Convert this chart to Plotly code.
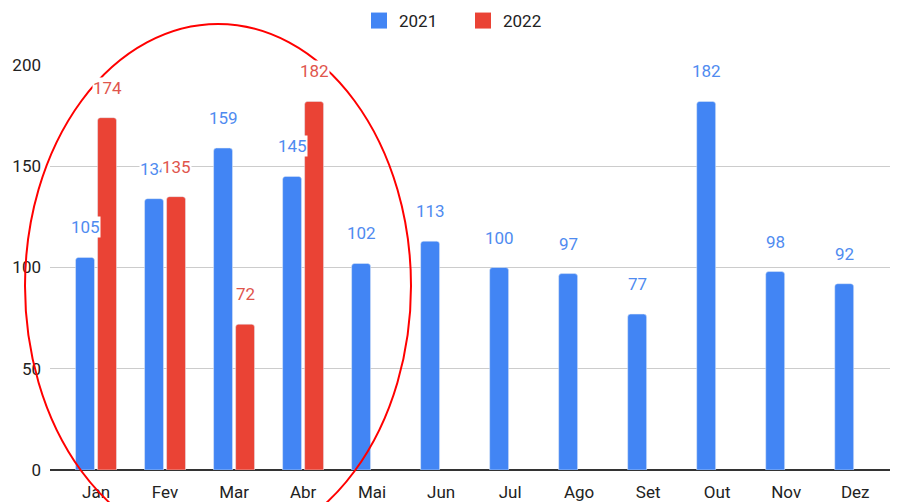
import plotly.graph_objects as go

months = ["Jan", "Fev", "Mar", "Abr", "Mai", "Jun", "Jul", "Ago", "Set", "Out", "Nov", "Dez"]
v2021 = [105, 134, 159, 145, 102, 113, 100, 97, 77, 182, 98, 92]
v2022 = [174, 135, 72, 182, None, None, None, None, None, None, None, None]

BLUE = "#4285F4"
RED = "#EA4335"
BLUE_TXT = "#4f8bf0"
RED_TXT = "#e0554c"
FONT = "Roboto"

# page body offset is 8px; work in figure coordinates = reference - 8
OFF = 8
W, H = 898, 502
PL, PR, PT, PB = 50 - OFF, 898 - OFF, 65 - OFF, 470 - OFF  # plot area in figure px
ML, MR, MT, MB = PL, W - PR, PT, H - PB

fig = go.Figure()
fig.add_trace(go.Bar(x=months, y=v2021, name="2021", marker=dict(color=BLUE, cornerradius=3),
                     showlegend=False))
fig.add_trace(go.Bar(x=months, y=v2022, name="2022", marker=dict(color=RED, cornerradius=3),
                     showlegend=False))
# legend entries with larger square swatches
fig.add_trace(go.Scatter(x=[None], y=[None], mode="markers", name="2021",
                         marker=dict(symbol="square", size=16, color=BLUE)))
fig.add_trace(go.Scatter(x=[None], y=[None], mode="markers", name="2022",
                         marker=dict(symbol="square", size=16, color=RED)))

annotations = []
for m, v in zip(months, v2021):
    annotations.append(dict(x=m, y=v, xref="x", yref="y", text=str(v), showarrow=False,
                            xshift=-11, yshift=30, font=dict(family=FONT, size=17, color=BLUE_TXT),
                            bgcolor="white", borderpad=0))
for m, v in zip(months, v2022):
    if v is not None:
        annotations.append(dict(x=m, y=v, xref="x", yref="y", text=str(v), showarrow=False,
                                xshift=11, yshift=30, font=dict(family=FONT, size=17, color=RED_TXT),
                                bgcolor="white", borderpad=0))

pw = PR - PL
ph = PB - PT
def px_x(p):  # reference px -> paper
    return (p - OFF - PL) / pw
def px_y(p):
    return (PB - (p - OFF)) / ph

fig.add_shape(type="circle", xref="paper", yref="paper",
              x0=px_x(25), x1=px_x(411), y0=px_y(548), y1=px_y(24),
              line=dict(color="#ff0000", width=2), layer="above")

fig.update_layout(
    width=W, height=H,
    margin=dict(l=ML, r=MR, t=MT, b=MB, autoexpand=False),
    paper_bgcolor="white", plot_bgcolor="white",
    barmode="group", bargap=0.362, bargroupgap=0.14,
    font=dict(family=FONT, size=17, color="#222222"),
    showlegend=True,
    legend=dict(orientation="h", x=px_x(463), xanchor="center",
                y=1 - (21 - OFF) / H, yanchor="middle", yref="container",
                font=dict(family=FONT, size=17, color="#222222"), itemwidth=30,
                entrywidth=59, entrywidthmode="pixels"),
    annotations=annotations,
)
fig.update_xaxes(range=[-0.667, 11.62], showgrid=False, showline=False, ticks="",
                 tickfont=dict(family=FONT, size=17, color="#222222"), ticklabelstandoff=10)
fig.update_yaxes(range=[0, 200], tickvals=[0, 50, 100, 150, 200], showgrid=True,
                 gridcolor="#cccccc", gridwidth=1, zeroline=True, zerolinecolor="#333333",
                 zerolinewidth=2, showline=False, ticks="", ticklabelstandoff=8,
                 tickfont=dict(family=FONT, size=17, color="#222222"))

fig.write_html("out.html")
